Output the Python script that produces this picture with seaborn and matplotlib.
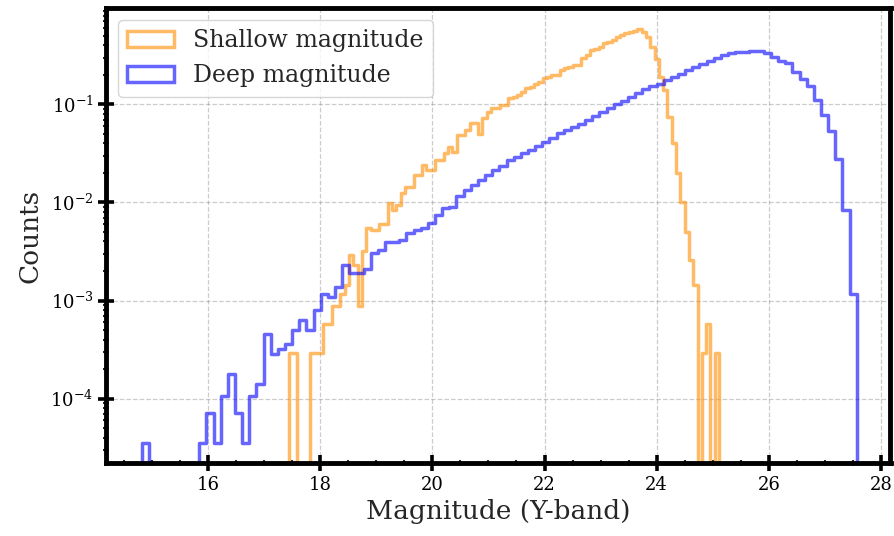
import numpy as np
import pandas as pd
import matplotlib
matplotlib.use("Agg")
import matplotlib.pyplot as plt
import seaborn as sns
from matplotlib.patches import Patch
from matplotlib.colors import to_rgba
from matplotlib.ticker import MultipleLocator, LogLocator, NullFormatter

# ---------------- data ----------------
deep_range = (14.823, 27.567)      # magnitude range of the deep histogram (100 bins)
shallow_range = (17.44, 25.113)    # magnitude range of the shallow histogram (100 bins)

deep_density = [
    3.55e-5, 0, 0, 0, 0, 0, 0, 0, 3.55e-5, 7.1e-5,
    3.55e-5, 1.07e-4, 1.78e-4, 7.1e-5, 3.55e-5, 1.07e-4, 1.42e-4, 4.6e-4, 2.85e-4, 3.2e-4,
    3.6e-4, 5.0e-4, 6.3e-4, 5.0e-4, 8.0e-4, 1.18e-3, 1.09e-3, 1.38e-3, 2.3e-3, 1.9e-3,
    1.9e-3, 2.1e-3, 3.05e-3, 3.27e-3, 3.95e-3, 3.98e-3, 4.14e-3, 4.9e-3, 5.24e-3, 5.5e-3,
    6.2e-3, 7.45e-3, 8.7e-3, 8.9e-3, 1.15e-2, 1.35e-2, 1.5e-2, 1.69e-2, 1.9e-2, 2.14e-2,
    2.35e-2, 2.7e-2, 2.92e-2, 3.2e-2, 3.45e-2, 3.8e-2, 4.15e-2, 4.55e-2, 5.1e-2, 5.5e-2,
    5.9e-2, 6.3e-2, 6.9e-2, 7.6e-2, 8.3e-2, 9.2e-2, 0.100, 0.108, 0.118, 0.130,
    0.142, 0.152, 0.160, 0.177, 0.192, 0.206, 0.222, 0.238, 0.255, 0.274,
    0.295, 0.315, 0.330, 0.338, 0.344, 0.350, 0.350, 0.332, 0.305, 0.278,
    0.262, 0.215, 0.180, 0.155, 0.110, 0.078, 0.053, 0.028, 8.4e-3, 1.18e-3,
]

shallow_density = [
    2.9e-4, 2.9e-4, 0, 0, 0, 2.9e-4, 2.9e-4, 2.9e-4, 5.8e-4, 5.8e-4,
    8.7e-4, 8.7e-4, 1.16e-3, 1.45e-3, 2.9e-3, 2.3e-3, 8.7e-4, 3.2e-3, 5.5e-3, 5.2e-3,
    5.2e-3, 6.1e-3, 6.1e-3, 9.8e-3, 8.4e-3, 9.5e-3, 1.24e-2, 1.45e-2, 1.45e-2, 1.9e-2,
    1.9e-2, 2.4e-2, 2.14e-2, 2.14e-2, 2.7e-2, 2.7e-2, 3.16e-2, 3.7e-2, 3.3e-2, 4.87e-2,
    4.87e-2, 5.47e-2, 6.4e-2, 6.4e-2, 5.0e-2, 7.2e-2, 8.4e-2, 9.1e-2, 9.1e-2, 9.8e-2,
    9.8e-2, 0.115, 0.118, 0.124, 0.134, 0.146, 0.151, 0.163, 0.170, 0.184,
    0.190, 0.199, 0.199, 0.224, 0.234, 0.241, 0.251, 0.251, 0.294, 0.318,
    0.358, 0.370, 0.387, 0.418, 0.435, 0.452, 0.489, 0.510, 0.528, 0.549,
    0.560, 0.580, 0.549, 0.489, 0.387, 0.290, 0.190, 0.140, 0.075, 0.040,
    0.020, 0.0102, 5.0e-3, 2.6e-3, 1.45e-3, 0, 2.9e-4, 5.8e-4, 0, 2.9e-4,
]

series_labels = ["Shallow magnitude", "Deep magnitude"]
x_label = "Magnitude (Y-band)"
y_label = "Counts"


def padded_bins(rng, values):
    """Bin centres for the read values, plus one empty bin at each end so the
    step outline drops to the bottom like a matplotlib step histogram."""
    n = len(values)
    w = (rng[1] - rng[0]) / n
    lo, hi = rng[0] - w, rng[1] + w
    centers = lo + w * (np.arange(n + 2) + 0.5)
    weights = np.concatenate([[0.0], np.asarray(values, float), [0.0]])
    return pd.DataFrame({"mag": centers, "w": weights}), n + 2, (lo, hi)


shallow_df, shallow_nb, shallow_br = padded_bins(shallow_range, shallow_density)
deep_df, deep_nb, deep_br = padded_bins(deep_range, deep_density)

# ---------------- style ----------------
sns.set_style("white")
plt.rcParams["font.family"] = ["DejaVu Serif"]
plt.rcParams["mathtext.fontset"] = "dejavuserif"

W, H = 895, 536
fig = plt.figure(figsize=(W / 100, H / 100), dpi=100)
ax = fig.add_axes([106 / W, 1 - 463 / H, (890.5 - 106) / W, (463 - 8) / H])

c_shallow = "darkorange"
c_deep = "blue"
lw = 2.5

sns.histplot(data=shallow_df, x="mag", weights="w", bins=shallow_nb,
             binrange=shallow_br, element="step", fill=False,
             color=c_shallow, alpha=0.6, linewidth=lw, ax=ax)
sns.histplot(data=deep_df, x="mag", weights="w", bins=deep_nb,
             binrange=deep_br, element="step", fill=False,
             color=c_deep, alpha=0.6, linewidth=lw, ax=ax)

ax.set_yscale("log")
ax.set_xlim(14.18, 28.17)
ax.set_ylim(2.21e-5, 0.959)

ax.xaxis.set_major_locator(MultipleLocator(2))
ax.xaxis.set_minor_locator(MultipleLocator(0.5))
ax.yaxis.set_major_locator(LogLocator(base=10, numticks=20))
ax.yaxis.set_minor_locator(LogLocator(base=10, subs=np.arange(2, 10), numticks=20))
ax.yaxis.set_minor_formatter(NullFormatter())

ax.tick_params(which="major", direction="inout", length=11, width=2.6,
               labelsize=13, top=False, right=False, bottom=True, left=True,
               colors="black")
ax.tick_params(which="minor", direction="inout", length=5, width=1.5,
               top=False, right=False, bottom=True, left=True)

for s in ax.spines.values():
    s.set_linewidth(3.5)
    s.set_color("black")

ax.grid(True, which="major", linestyle="--", color="gray", alpha=0.4, linewidth=0.9)
ax.set_axisbelow(True)

ax.set_xlabel(x_label, fontsize=19, labelpad=4)
ax.set_ylabel(y_label, fontsize=19, labelpad=6)

handles = [
    Patch(facecolor="none", edgecolor=to_rgba(c_shallow, 0.6), linewidth=lw),
    Patch(facecolor="none", edgecolor=to_rgba(c_deep, 0.6), linewidth=lw),
]
ax.legend(handles, series_labels, loc="upper left", fontsize=17,
          frameon=True, fancybox=True, framealpha=0.8)

fig.savefig("out.png", dpi=100)
